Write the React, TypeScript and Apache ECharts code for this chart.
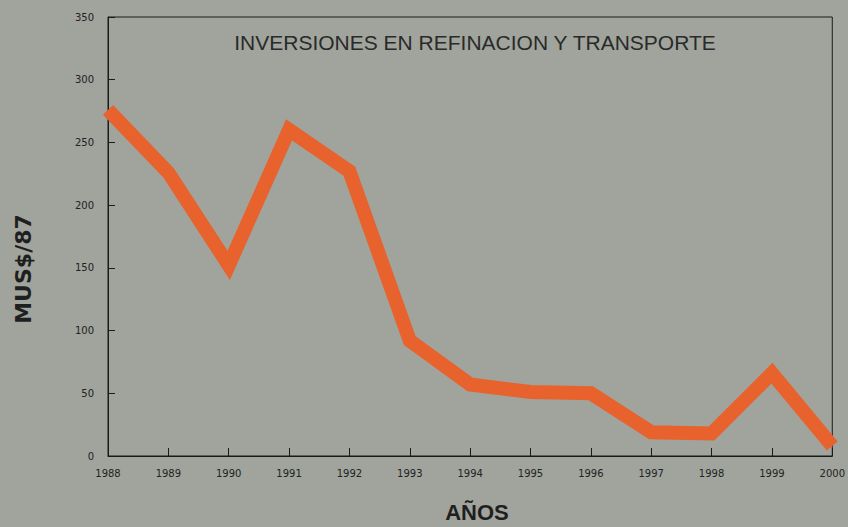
import React, { useEffect, useRef } from "react";
import * as echarts from "echarts";

const years = ["1988","1989","1990","1991","1992","1993","1994","1995","1996","1997","1998","1999","2000"];
const investments = [276, 226, 152, 260, 227, 92, 57, 51, 50, 19, 18, 66, 8];
const title = "INVERSIONES EN REFINACION Y TRANSPORTE";
const yName = "MUS$/87";
const xName = "AÑOS";

export default function App() {
  const ref = useRef<HTMLDivElement>(null);
  useEffect(() => {
    const chart = echarts.init(ref.current!, null, { renderer: "svg" });
    chart.setOption({
      animation: false,
      backgroundColor: "#a0a49c",
      grid: { left: 108, right: 10, top: 17, bottom: 71, show: true, borderColor: "#1a1a1a", borderWidth: 1 },
      graphic: [
        { type: "text", x: 475, y: 42, style: { text: title, font: "21px Arial, 'Liberation Sans', sans-serif", fill: "#2a2a2a", align: "center", verticalAlign: "middle" } },
        { type: "text", x: 23, y: 269, rotation: Math.PI / 2, style: { text: yName, font: "bold 22px 'DejaVu Sans', sans-serif", fill: "#1f1f1f", align: "center", verticalAlign: "middle" } },
        { type: "text", x: 477, y: 512, style: { text: xName, font: "bold 22px Arial, 'Liberation Sans', sans-serif", fill: "#1f1f1f", align: "center", verticalAlign: "middle" } }
      ],
      xAxis: {
        type: "category",
        data: years,
        boundaryGap: false,
        axisLine: { lineStyle: { color: "#1a1a1a", width: 1 } },
        axisTick: { inside: true, length: 8, lineStyle: { color: "#1a1a1a" }, alignWithLabel: true },
        axisLabel: { color: "#222", fontSize: 10, margin: 12, fontFamily: "DejaVu Sans, sans-serif", showMaxLabel: true },
        splitLine: { show: false }
      },
      yAxis: {
        type: "value",
        min: 0,
        max: 350,
        interval: 50,
        axisLine: { show: true, lineStyle: { color: "#1a1a1a", width: 1 } },
        axisTick: { show: true, inside: true, length: 7, lineStyle: { color: "#1a1a1a" } },
        axisLabel: { color: "#222", fontSize: 10, margin: 14, fontFamily: "DejaVu Sans, sans-serif" },
        splitLine: { show: false }
      },
      series: [
        {
          type: "line",
          data: investments,
          symbol: "none",
          lineStyle: { color: "#e8622d", width: 14, cap: "butt", join: "miter" }
        }
      ]
    });
    return () => chart.dispose();
  }, []);
  return <div ref={ref} style={{ position: "absolute", left: 0, top: 0, width: 848, height: 527 }} />;
}
